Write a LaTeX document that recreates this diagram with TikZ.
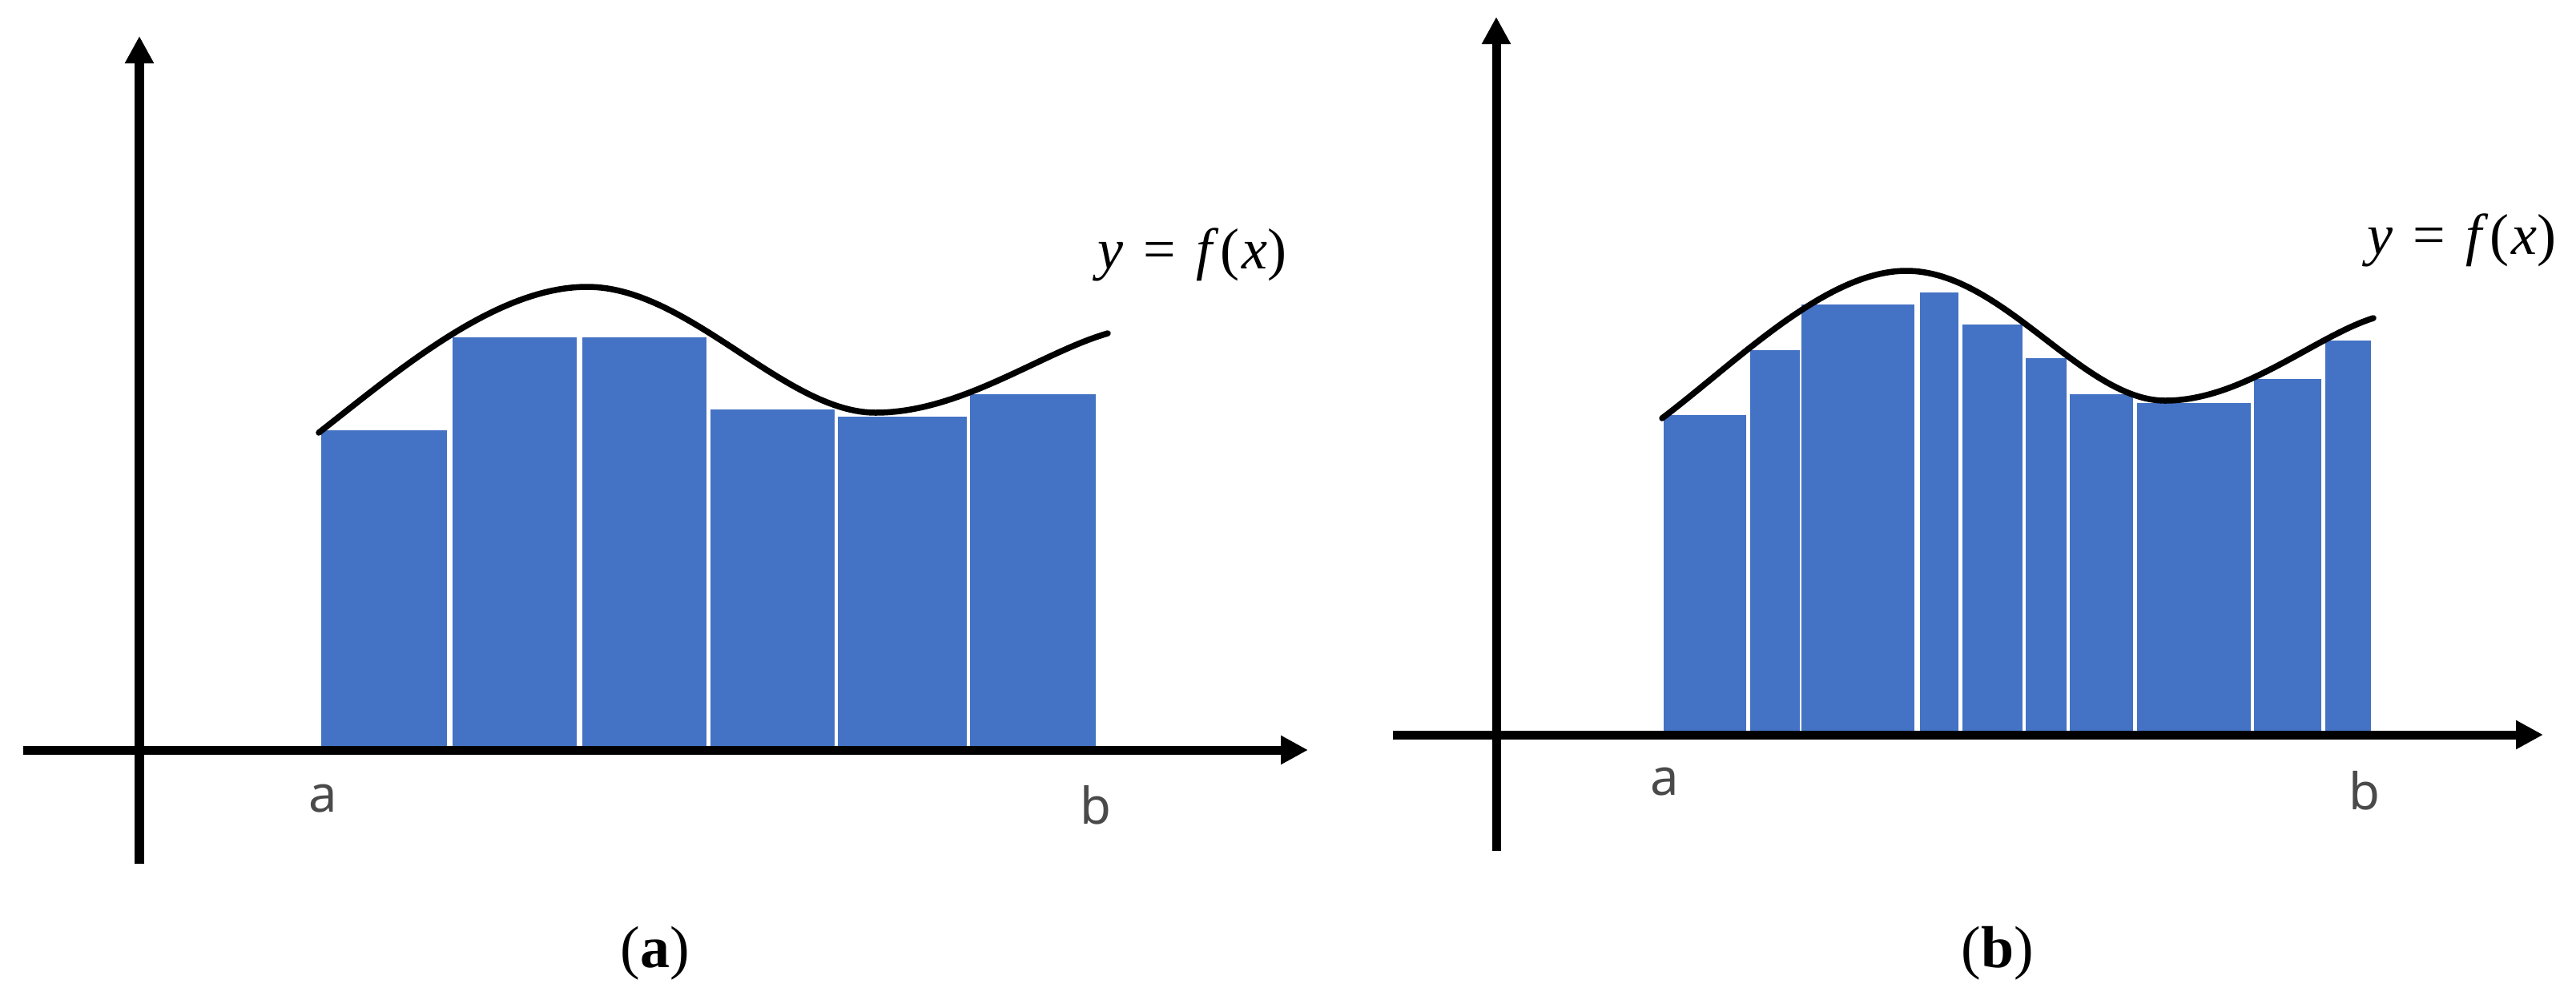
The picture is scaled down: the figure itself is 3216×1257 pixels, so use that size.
\documentclass[tikz,border=0pt]{standalone}
\usepackage{fontspec}
\setmainfont{Liberation Serif}
\newfontfamily\labfont{Noto Sans}
\usetikzlibrary{arrows.meta}
\definecolor{barblue}{HTML}{4472C4}
\definecolor{labgray}{HTML}{4A4A4A}
\newcommand{\fxtext}{{\itshape y}\hspace{0.35em}=\hspace{0.35em}{\itshape f}\hspace{0.14em}(\hspace{0.03em}{\itshape x})}
\begin{document}
\begin{tikzpicture}[x=0.01cm,y=-0.01cm,
  axisline/.style={line width=0.11cm, -{Triangle[length=0.34cm,width=0.34cm]}},
  bar/.style={fill=barblue},
  curve/.style={line width=0.075cm, line cap=round, line join=round},
  endlab/.style={font=\labfont\fontsize{18}{20}\selectfont, text=labgray, inner sep=0},
  fxlab/.style={font=\fontsize{20.5}{24}\selectfont, inner sep=0, anchor=west},
  caplab/.style={font=\fontsize{21}{24}\selectfont, inner sep=0}]
\useasboundingbox (0,0) rectangle (3216,1257);
% ---------------- panel (a) ----------------
\foreach \l/\r/\t in {401/558/537, 565/720/421, 727/882/421, 887/1042/511, 1046/1207/520, 1211/1368/492}
  \fill[bar] (\l,933) rectangle (\r,\t);
\coordinate (aXs) at (29,936);
\coordinate (aXe) at (1633,936);
\coordinate (aYs) at (174,1078);
\coordinate (aYe) at (174,45);
\draw[axisline] (aXs) -- (aXe);
\draw[axisline] (aYs) -- (aYe);
\coordinate (aC0) at (398,540);
\coordinate (aC1) at (733,358);
\coordinate (aC2) at (1093,515);
\coordinate (aC3) at (1383,416);
\draw[curve] (aC0) .. controls (500,460) and (620,358) .. (aC1)
                   .. controls (860,358) and (980,515) .. (aC2)
                   .. controls (1200,515) and (1300,440) .. (aC3);
\node[fxlab] (fa) at (1370,318) {\fxtext};
\node[endlab] (la) at (403,997) {a};
\node[endlab] (lb) at (1368,1005) {b};
\node[caplab] (ca) at (818,1190) {(\textbf{a})};
% ---------------- panel (b) ----------------
\foreach \l/\r/\t in {2077/2180/518, 2185/2247/437, 2249/2390/380, 2397/2445/365, 2450/2525/405, 2529/2580/447, 2584/2663/492, 2668/2810/503, 2814/2898/473, 2903/2960/425}
  \fill[bar] (\l,914) rectangle (\r,\t);
\coordinate (bXs) at (1739,917);
\coordinate (bXe) at (3175,917);
\coordinate (bYs) at (1868,1062);
\coordinate (bYe) at (1868,21);
\draw[axisline] (bXs) -- (bXe);
\draw[axisline] (bYs) -- (bYe);
\coordinate (bC0) at (2075,522);
\coordinate (bC1) at (2380,338);
\coordinate (bC2) at (2703,500);
\coordinate (bC3) at (2963,397);
\draw[curve] (bC0) .. controls (2170,450) and (2280,338) .. (bC1)
                   .. controls (2500,338) and (2600,500) .. (bC2)
                   .. controls (2800,500) and (2890,420) .. (bC3);
\node[fxlab] (fb) at (2955,300) {\fxtext};
\node[endlab] (la2) at (2078,976) {a};
\node[endlab] (lb2) at (2952,987) {b};
\node[caplab] (cb) at (2494,1190) {(\textbf{b})};
\end{tikzpicture}
\end{document}
